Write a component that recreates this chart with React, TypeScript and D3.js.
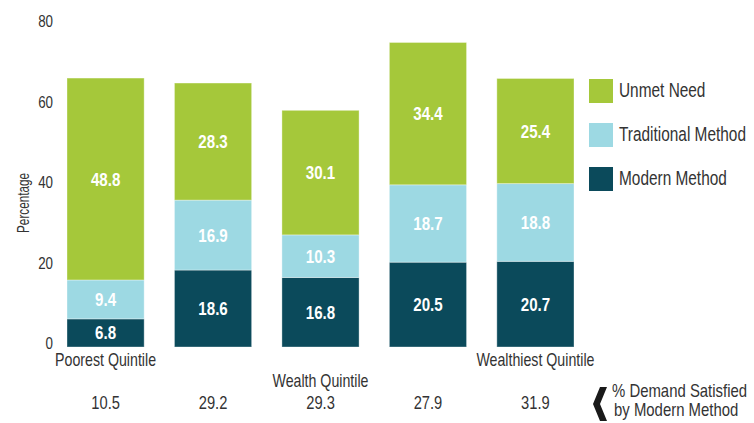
import React from "react";
import * as d3 from "d3";

const categories = ["Poorest", "Second", "Middle", "Fourth", "Wealthiest"];
const modern = [6.8, 18.6, 16.8, 20.5, 20.7];
const traditional = [9.4, 16.9, 10.3, 18.7, 18.8];
const unmet = [48.8, 28.3, 30.1, 34.4, 25.4];
const demandSatisfied = ["10.5", "29.2", "29.3", "27.9", "31.9"];
const yTicks = [0, 20, 40, 60, 80];
const seriesNames = ["Unmet Need", "Traditional Method", "Modern Method"];
const catLabels: Record<string, string> = {
  Poorest: "Poorest Quintile",
  Wealthiest: "Wealthiest Quintile",
};

const COLORS: Record<string, string> = {
  modern: "#0B4A5B",
  traditional: "#9DD9E3",
  unmet: "#A5C83A",
};
const legendColors = [COLORS.unmet, COLORS.traditional, COLORS.modern];

const FONT = "'Liberation Sans', Arial, sans-serif";
const TEXT = "#333333";
const SX = 0.84;

function T(props: {
  x: number;
  y: number;
  size: number;
  anchor?: string;
  fill?: string;
  bold?: boolean;
  rotate?: number;
  sx?: number;
  children: React.ReactNode;
}) {
  const { x, y, size, anchor = "start", fill = TEXT, bold, rotate = 0, sx = SX } = props;
  return (
    <text
      transform={`translate(${x},${y}) rotate(${rotate}) scale(${sx},1)`}
      textAnchor={anchor}
      fontSize={size}
      fontWeight={bold ? "bold" : "normal"}
      fill={fill}
    >
      {props.children}
    </text>
  );
}

export default function App() {
  const W = 754;
  const H = 423;
  const y = d3.scaleLinear().domain([0, 80]).range([347, 16]);
  const yLabel = d3.scaleLinear().domain([0, 80]).range([349, 27]);
  const x = d3
    .scaleBand<string>()
    .domain(categories)
    .range([67, 574])
    .paddingInner(0.282)
    .paddingOuter(0);
  const cx = (c: string) => x(c)! + x.bandwidth() / 2;

  const rows = categories.map((c, i) => ({
    cat: c,
    modern: modern[i],
    traditional: traditional[i],
    unmet: unmet[i],
  }));
  const keys = ["modern", "traditional", "unmet"];
  const stack = d3.stack<any>().keys(keys)(rows);

  return (
    <svg
      width={W}
      height={H}
      style={{ position: "absolute", left: 0, top: 0, background: "#fff" }}
      fontFamily={FONT}
    >
      {/* y tick labels */}
      {yTicks.map((t) => (
        <T key={t} x={53} y={yLabel(t)} size={16.5} sx={0.81} anchor="end">
          {t}
        </T>
      ))}
      <T x={29} y={203} size={16.5} sx={0.71} anchor="middle" rotate={-90}>
        Percentage
      </T>

      {/* bars */}
      {stack.map((s) => (
        <g key={s.key}>
          {s.map((d: any, i: number) => {
            const x0 = x(categories[i])!;
            const y0 = y(d[1]);
            const h = y(d[0]) - y(d[1]);
            const val = d[1] - d[0];
            return (
              <g key={i}>
                <rect
                  x={x0}
                  y={y0}
                  width={x.bandwidth()}
                  height={h}
                  fill={COLORS[s.key]}
                  stroke="#ffffff"
                  strokeOpacity={0.35}
                  strokeWidth={1}
                />
                <T
                  x={x0 + x.bandwidth() / 2}
                  y={y0 + h / 2 + 6.5}
                  size={18}
                  anchor="middle"
                  fill="#ffffff"
                  bold
                >
                  {val.toFixed(1)}
                </T>
              </g>
            );
          })}
        </g>
      ))}

      {/* category labels */}
      {categories.map((c) =>
        catLabels[c] ? (
          <T key={c} x={cx(c)} y={366} size={18.2} sx={0.78} anchor="middle">
            {catLabels[c]}
          </T>
        ) : null
      )}
      <T x={cx("Middle")} y={387} size={18.2} sx={0.78} anchor="middle">
        Wealth Quintile
      </T>

      {/* demand satisfied row */}
      {categories.map((c, i) => (
        <T key={c} x={cx(c)} y={409} size={17.5} anchor="middle">
          {demandSatisfied[i]}
        </T>
      ))}
      <path d="M600,387 L607,387 L600,404 L607,421 L600,421 L593,404 Z" fill="#1a1a1a" />
      <T x={612} y={397} size={18.2} sx={0.82}>
        % Demand Satisfied
      </T>
      <T x={614} y={416} size={18.2} sx={0.82}>
        by Modern Method
      </T>

      {/* legend */}
      {seriesNames.map((n, i) => (
        <g key={n} transform={`translate(589,${79 + i * 44})`}>
          <rect width={24} height={24} fill={legendColors[i]} />
          <T x={30} y={17.5} size={19.5} sx={0.79}>
            {n}
          </T>
        </g>
      ))}
    </svg>
  );
}
